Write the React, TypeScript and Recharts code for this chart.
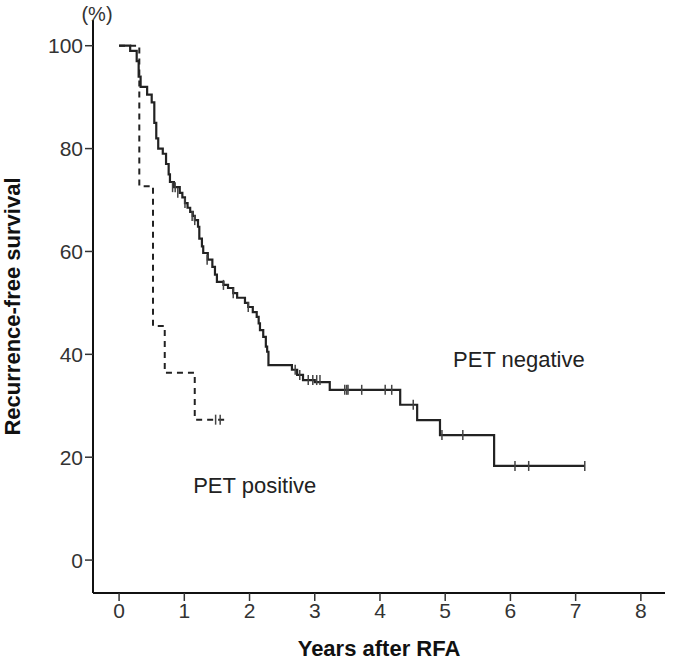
import { ComposedChart, Line, Scatter, XAxis, YAxis, Label, ReferenceDot } from 'recharts'

// PET negative (solid) step curve
const negTimes = [0, 0.17, 0.27, 0.3, 0.33, 0.43, 0.5, 0.54, 0.57, 0.6, 0.67, 0.72, 0.76, 0.78, 0.84, 0.93, 0.97, 1.01, 1.05, 1.09, 1.13, 1.16, 1.21, 1.23, 1.27, 1.29, 1.36, 1.43, 1.47, 1.5, 1.6, 1.67, 1.75, 1.81, 1.93, 1.98, 2.05, 2.11, 2.14, 2.16, 2.21, 2.25, 2.27, 2.29, 2.65, 2.73, 2.82, 3.0, 3.23, 4.31, 4.57, 4.92, 5.75, 7.14]
const negSurvival = [100, 99, 97, 94, 92, 90.5, 89, 85, 82, 80, 79, 77, 75, 73.5, 72.5, 71.4, 70.5, 69.4, 68.5, 67.7, 66.9, 66.1, 64.8, 62.5, 61, 59.7, 58.4, 57, 55.5, 54.1, 53.5, 52.9, 51.9, 51, 50, 49.2, 48.2, 47.3, 46, 44.7, 43.4, 41.5, 40.5, 37.9, 37, 36, 35, 34.6, 33.1, 30.2, 27.2, 24.3, 18.3, 18.3]

// PET positive (dashed) step curve
const posTimes = [0, 0.31, 0.52, 0.7, 1.16, 1.62]
const posSurvival = [100, 72.7, 45.5, 36.4, 27.3, 27.3]

// censored observations
const negCensorTimes = [0.82, 0.86, 0.9, 1.01, 1.12, 1.16, 1.35, 1.6, 1.75, 1.98, 2.7, 2.77, 2.9, 2.97, 3.03, 3.08, 3.46, 3.49, 3.51, 3.72, 4.08, 4.18, 4.51, 4.95, 5.27, 6.07, 6.28, 7.14]
const negCensorSurvival = [72.5, 72.5, 71.4, 69.4, 66.9, 66.1, 58.4, 53.5, 51.9, 49.2, 37, 36, 35, 35, 35, 35, 33.1, 33.1, 33.1, 33.1, 33.1, 33.1, 30.2, 24.3, 24.3, 18.3, 18.3, 18.3]
const posCensorTimes = [1.48, 1.55]
const posCensorSurvival = [27.3, 27.3]

const xTicks = [0, 1, 2, 3, 4, 5, 6, 7, 8]
const yTicks = [0, 20, 40, 60, 80, 100]

const negData = negTimes.map((x, i) => ({ x, y: negSurvival[i] }))
const posData = posTimes.map((x, i) => ({ x, y: posSurvival[i] }))
const censorData = [
  ...negCensorTimes.map((x, i) => ({ x, y: negCensorSurvival[i] })),
  ...posCensorTimes.map((x, i) => ({ x, y: posCensorSurvival[i] })),
]

const font = 'Arial, "Liberation Sans", sans-serif'
const tickStyle = { fill: '#333', fontSize: 21, fontFamily: font }

const CensorMark = (props: any) => {
  const { cx, cy } = props
  if (cx == null || cy == null) return null
  return <line x1={cx} x2={cx} y1={cy - 5} y2={cy + 5} stroke="#444" strokeWidth={1.5} />
}

export default function App() {
  return (
    <div style={{ position: 'absolute', left: 0, top: 0, background: '#fff' }}>
      <ComposedChart width={685} height={661} margin={{ top: 20, right: 20, bottom: 0, left: 0 }}>
        <XAxis
          type="number"
          dataKey="x"
          domain={[-0.4, 8.37]}
          ticks={xTicks}
          allowDataOverflow
          height={68}
          tickSize={8}
          tick={tickStyle}
          axisLine={{ stroke: '#111', strokeWidth: 2 }}
          tickLine={{ stroke: '#333', strokeWidth: 1.5 }}
        >
          <Label
            value="Years after RFA"
            position="insideBottom"
            offset={5}
            style={{ fontFamily: font, fontSize: 22, fontWeight: 'bold', fill: '#111' }}
          />
        </XAxis>
        <YAxis
          type="number"
          domain={[-6.4, 105]}
          ticks={yTicks}
          allowDataOverflow
          width={93}
          tickSize={8}
          tick={tickStyle}
          axisLine={{ stroke: '#111', strokeWidth: 2 }}
          tickLine={{ stroke: '#333', strokeWidth: 1.5 }}
        >
          <Label
            value="Recurrence-free survival"
            angle={-90}
            position="insideLeft"
            offset={12}
            style={{ textAnchor: 'middle', fontFamily: font, fontSize: 22, fontWeight: 'bold', fill: '#111' }}
          />
          <Label
            content={() => (
              <text x={97} y={21} textAnchor="middle" fontFamily={font} fontSize={20} fill="#333">
                (%)
              </text>
            )}
          />
        </YAxis>
        <Line
          data={posData}
          dataKey="y"
          type="stepAfter"
          stroke="#222"
          strokeWidth={2}
          strokeDasharray="6 5"
          dot={false}
          isAnimationActive={false}
        />
        <Line
          data={negData}
          dataKey="y"
          type="stepAfter"
          stroke="#222"
          strokeWidth={2.2}
          dot={false}
          isAnimationActive={false}
        />
        <Scatter data={censorData} dataKey="y" shape={CensorMark} isAnimationActive={false} />
        <ReferenceDot
          x={6.13}
          y={39}
          r={0}
          label={{ value: 'PET negative', position: 'center', fill: '#222', fontSize: 22, fontFamily: font }}
        />
        <ReferenceDot
          x={2.08}
          y={14.6}
          r={0}
          label={{ value: 'PET positive', position: 'center', fill: '#222', fontSize: 22, fontFamily: font }}
        />
      </ComposedChart>
    </div>
  )
}
